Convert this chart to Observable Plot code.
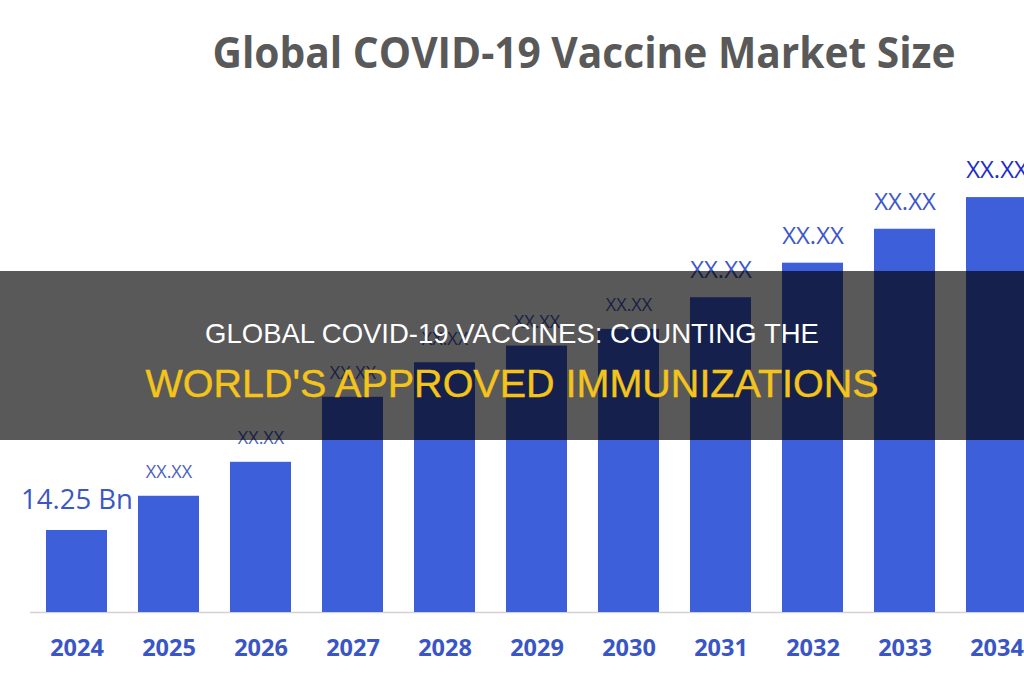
<!DOCTYPE html>
<html>
<head>
<meta charset="utf-8">
<script src="https://cdn.jsdelivr.net/npm/d3@7"></script>
<script src="https://cdn.jsdelivr.net/npm/@observablehq/plot@0.6"></script>
<style>
  html, body { margin: 0; padding: 0; background: #fff; overflow: hidden; }
  #wrap { position: relative; width: 1024px; height: 680px; overflow: hidden; }
  #banner {
    position: absolute; left: 0; top: 271px; width: 1024px; height: 169px;
    background: rgba(0, 0, 0, 0.65);
    font-family: "Liberation Sans", Arial, sans-serif;
  }
  #banner div { position: absolute; left: 0; width: 100%; text-align: center; white-space: nowrap; }
  #line1 { top: 49px; font-size: 27.5px; line-height: 27.5px; color: #ffffff; }
  #line2 { top: 93px; font-size: 39.5px; line-height: 39.5px; color: #f4c41b; -webkit-text-stroke: 0.4px #f4c41b; }
</style>
</head>
<body>
<div id="wrap">
  <div id="chart"></div>
  <div id="banner">
    <div id="line1">GLOBAL COVID-19 VACCINES: COUNTING THE</div>
    <div id="line2">WORLD'S APPROVED IMMUNIZATIONS</div>
  </div>
</div>
<script>
// Forecast years
const years = ["2024", "2025", "2026", "2027", "2028", "2029", "2030", "2031", "2032", "2033", "2034"];
// Market size (USD billion)
const marketSize = [14.25, 20.2, 26.1, 37.4, 43.4, 46.3, 49.2, 54.7, 60.7, 66.6, 72.1];
// Labels printed above each bar
const valueLabels = ["14.25 Bn", "XX.XX", "XX.XX", "XX.XX", "XX.XX", "XX.XX", "XX.XX", "XX.XX", "XX.XX", "XX.XX", "XX.XX"];
const chartTitle = "Global COVID-19 Vaccine Market Size";

const rows = years.map((year, i) => ({ year, value: marketSize[i], label: valueLabels[i], i }));

const chart = Plot.plot({
  width: 1024,
  height: 680,
  marginTop: 0,
  marginBottom: 68,
  marginLeft: 0,
  marginRight: 0,
  style: { fontFamily: "'Open Sans', sans-serif", background: "#fff", overflow: "hidden" },
  x: { domain: years, range: [30, 1042], paddingInner: 0.34, paddingOuter: 0.17, label: null },
  y: { domain: [0, 106.35], axis: null },
  marks: [
    Plot.ruleY([0], { stroke: "#d2d2d2", strokeWidth: 1.5, insetLeft: 30 }),
    Plot.barY(rows, { x: "year", y: "value", fill: "#3d5fd9" }),
    Plot.axisX({ tickSize: 0, tickPadding: 27, fontSize: 23.5, fontWeight: "bold", color: "#3a56c6", label: null }),
    // headline value for the base year
    Plot.text(rows.filter(d => d.i === 0), {
      x: "year", y: "value", text: "label", lineAnchor: "bottom", dy: -21,
      fontSize: 27.5, fill: "#3b57c6"
    }),
    // near-term placeholders
    Plot.text(rows.filter(d => d.i >= 1 && d.i <= 6), {
      x: "year", y: "value", text: "label", lineAnchor: "bottom", dy: -18,
      fontSize: 18, fill: "#4a60c2"
    }),
    // later-year placeholders
    Plot.text(rows.filter(d => d.i >= 7 && d.i <= 9), {
      x: "year", y: "value", text: "label", lineAnchor: "bottom", dy: -19.5,
      fontSize: 24, fill: "#3d57cc"
    }),
    Plot.text(rows.filter(d => d.i === 10), {
      x: "year", y: "value", text: "label", lineAnchor: "bottom", dy: -19.5,
      fontSize: 24, fill: "#1f2dc8"
    }),
    // chart title
    Plot.text([chartTitle], {
      text: d => d, frameAnchor: "top", dx: 71.5, dy: 67, lineAnchor: "bottom",
      fontSize: 43, fontWeight: "bold", fill: "#595959", className: "chart-title"
    })
  ]
});

document.getElementById("chart").appendChild(chart);

// Condense the bold title to its set width
const titleText = chart.querySelector(".chart-title text");
if (titleText) {
  titleText.setAttribute("textLength", 743);
  titleText.setAttribute("lengthAdjust", "spacingAndGlyphs");
}
</script>
</body>
</html>
